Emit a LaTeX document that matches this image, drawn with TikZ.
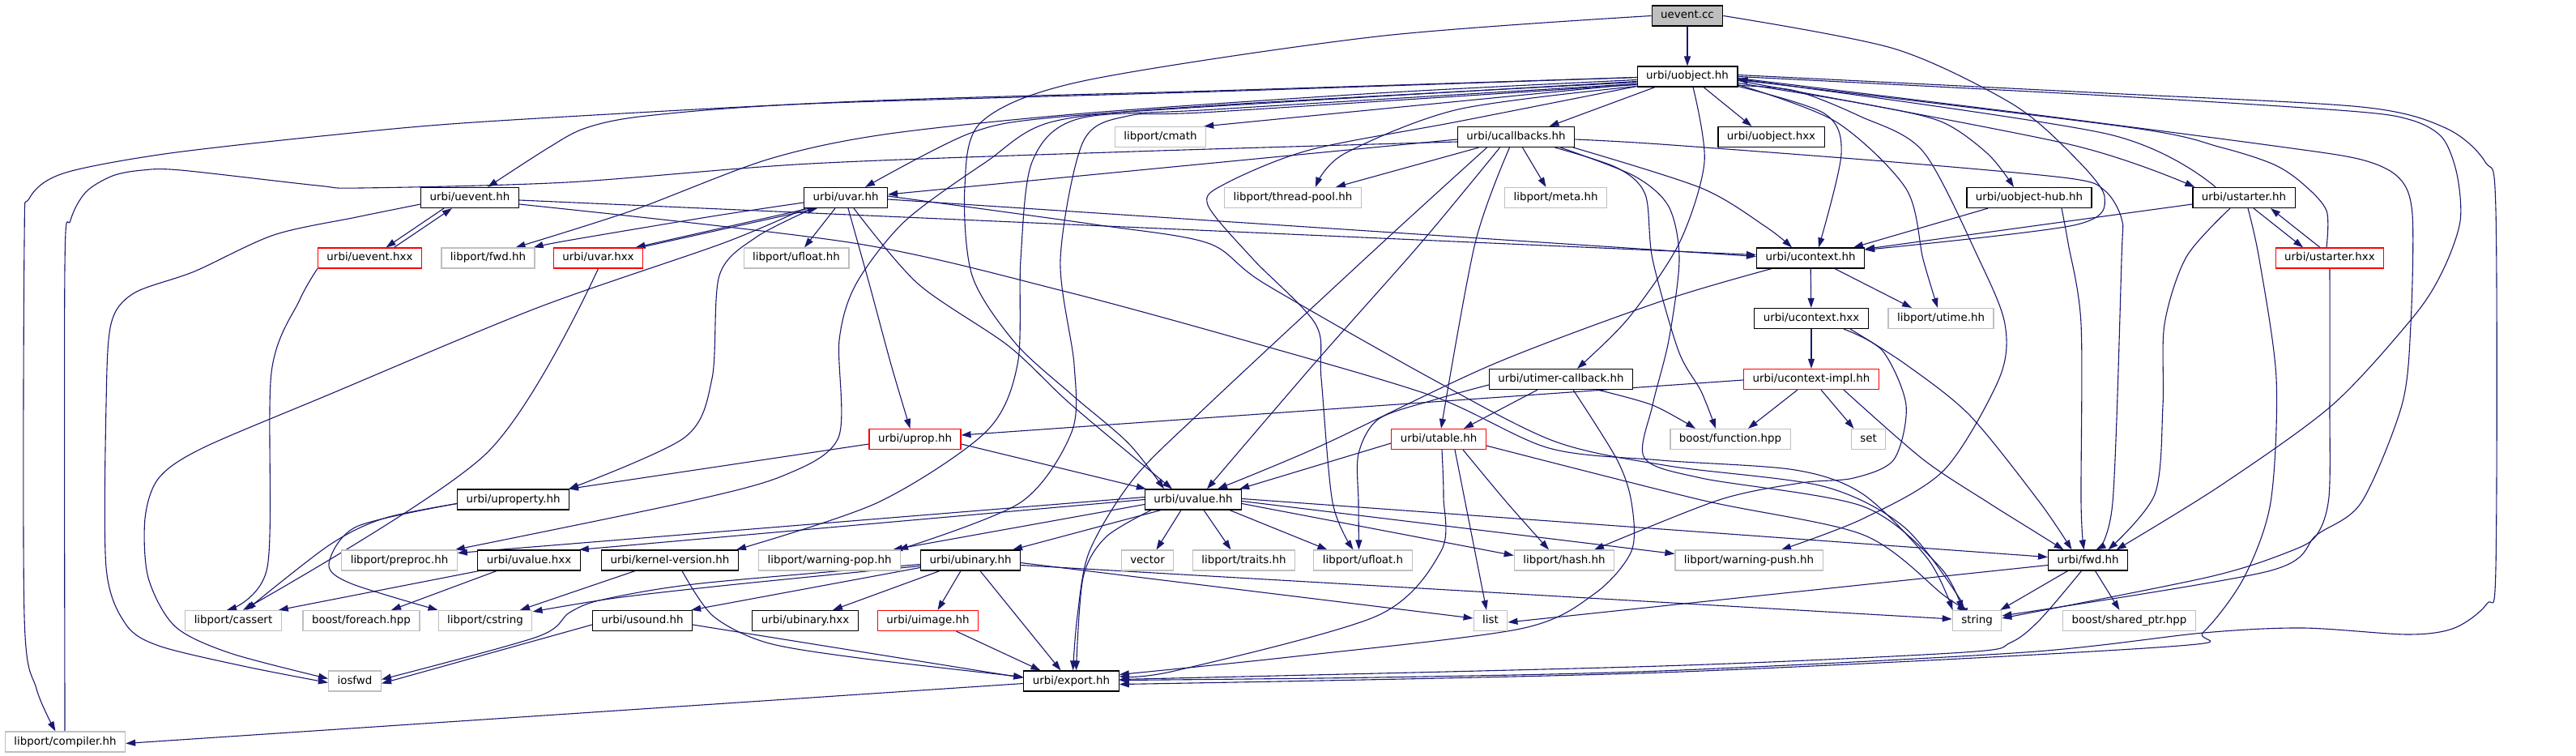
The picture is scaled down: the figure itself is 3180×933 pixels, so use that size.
\documentclass[tikz,border=0pt]{standalone}
\usepackage{fontspec}
\newfontfamily\dvs{DejaVu Sans}
\usetikzlibrary{arrows.meta}
\definecolor{eblue}{HTML}{191970}
\definecolor{egray}{HTML}{BFBFBF}
\pgfdeclarelayer{bg}
\pgfsetlayers{bg,main}
\tikzset{
  nd/.style={draw=black, line width=1.2pt, fill=white, rectangle, minimum height=25pt, inner xsep=11pt, inner ysep=0pt, font=\dvs\fontsize{13.4pt}{16pt}\selectfont, text height=10pt, text depth=3pt},
  ext/.style={nd, draw=egray},
  trc/.style={nd, draw=red},
  e/.style={draw=eblue, line width=1.1pt, -{Triangle[length=12pt,width=8pt]}},
}
\newcommand{\edgeroute}[1]{\draw[e] plot[smooth,tension=0.5] coordinates {#1};}
\begin{document}
\begin{tikzpicture}[x=1pt,y=-1pt]
\useasboundingbox (0,0) rectangle (3180,933);
\node[nd,fill=egray] (ueventcc) at (2083,19.5) {uevent.cc};
\node[nd] (uobject) at (2083,94.5) {urbi/uobject.hh};
\node[ext] (cmath) at (1432.5,169) {libport/cmath};
\node[nd] (ucallbacks) at (1871.5,169) {urbi/ucallbacks.hh};
\node[nd] (uobjecthxx) at (2186.5,169) {urbi/uobject.hxx};
\node[nd] (ueventhh) at (580,244) {urbi/uevent.hh};
\node[nd] (uvar) at (1044,244) {urbi/uvar.hh};
\node[ext] (threadpool) at (1596,244) {libport/thread-pool.hh};
\node[ext] (meta) at (1920.5,244) {libport/meta.hh};
\node[nd] (uobjecthub) at (2505,244) {urbi/uobject-hub.hh};
\node[nd] (ustarter) at (2770,244) {urbi/ustarter.hh};
\node[trc] (ueventhxx) at (456.5,318.5) {urbi/uevent.hxx};
\node[ext] (lpfwd) at (602.5,318.5) {libport/fwd.hh};
\node[trc] (uvarhxx) at (738.5,318.5) {urbi/uvar.hxx};
\node[ext] (ufloathh) at (983,318.5) {libport/ufloat.hh};
\node[nd] (ucontext) at (2235,318.5) {urbi/ucontext.hh};
\node[trc] (ustarterhxx) at (2876,318.5) {urbi/ustarter.hxx};
\node[nd] (ucontexthxx) at (2236,393) {urbi/ucontext.hxx};
\node[ext] (utime) at (2396,393) {libport/utime.hh};
\node[nd] (utimer) at (1927,468) {urbi/utimer-callback.hh};
\node[trc] (ucontextimpl) at (2236,468) {urbi/ucontext-impl.hh};
\node[trc] (uprop) at (1129.5,542) {urbi/uprop.hh};
\node[trc] (utable) at (1776,542) {urbi/utable.hh};
\node[ext] (function) at (2136,542) {boost/function.hpp};
\node[ext] (set) at (2306.5,542) {set};
\node[nd] (uproperty) at (633.5,616.5) {urbi/uproperty.hh};
\node[nd] (uvalue) at (1473,616.5) {urbi/uvalue.hh};
\node[ext] (preproc) at (493,691.5) {libport/preproc.hh};
\node[nd] (uvaluehxx) at (653,691.5) {urbi/uvalue.hxx};
\node[nd] (kernel) at (827,691.5) {urbi/kernel-version.hh};
\node[ext] (warnpop) at (1024,691.5) {libport/warning-pop.hh};
\node[nd] (ubinary) at (1198,691.5) {urbi/ubinary.hh};
\node[ext] (vector) at (1416.5,691.5) {vector};
\node[ext] (traits) at (1535.5,691.5) {libport/traits.hh};
\node[ext] (ufloath) at (1682.5,691.5) {libport/ufloat.h};
\node[ext] (hash) at (1931,691.5) {libport/hash.hh};
\node[ext] (warnpush) at (2159,691.5) {libport/warning-push.hh};
\node[nd] (urbifwd) at (2577.5,691.5) {urbi/fwd.hh};
\node[ext] (cassert) at (288,766) {libport/cassert};
\node[ext] (foreach) at (446,766) {boost/foreach.hpp};
\node[ext] (cstring) at (599,766) {libport/cstring};
\node[nd] (usound) at (793,766) {urbi/usound.hh};
\node[nd] (ubinaryhxx) at (994,766) {urbi/ubinary.hxx};
\node[trc] (uimage) at (1145.5,766) {urbi/uimage.hh};
\node[ext] (list) at (1840,766) {list};
\node[ext] (string) at (2440.5,766) {string};
\node[ext] (sharedptr) at (2628.5,766) {boost/shared\_ptr.hpp};
\node[ext] (iosfwd) at (438,840.5) {iosfwd};
\node[nd] (export) at (1322.5,840.5) {urbi/export.hh};
\node[ext] (compiler) at (80.5,915.5) {libport/compiler.hh};
\begin{pgfonlayer}{bg}
% uevent.cc
\draw[e] (ueventcc) -- (uobject);
\edgeroute{(ueventcc.west) (1700,45) (1337,100) (1212,150) (1191,230) (1200,340) (1253,423) (1323,487) (1393,547) ([xshift=-36pt]uvalue.north)}
\edgeroute{(ueventcc.east) (2338,60) (2482,127) (2554,187) (2598,243) (2560,278) ([yshift=-3pt]ucontext.north east)}
% uobject.hh left
\edgeroute{([yshift=-1pt]uobject.west) (1500,112) (1060,125) (600,150) (406,167) (203,190) (78,214) (36,245) (30,300) (30,760) (45,850) ([xshift=-12pt]compiler.north)}
\edgeroute{([yshift=-1pt]uobject.west) (1500,113) (1000,128) (798,143) (723,158) (676,183) ([xshift=22pt]ueventhh.north)}
\edgeroute{([yshift=-4pt]uobject.west) (1700,115) (1337,140) (1091,166) (947,197) (780,260) ([xshift=34pt]lpfwd.north)}
\edgeroute{([yshift=-6pt]uobject.west) (1600,125) (1300,145) (1196,165) ([xshift=24pt]uvar.north)}
\draw[e] ([yshift=-9pt]uobject.west) -- ([xshift=-3pt]cmath.north east);
\draw[e] ([xshift=-40pt]uobject.south) -- ([xshift=41pt]ucallbacks.north);
\edgeroute{([yshift=-12pt]uobject.west) (1800,135) (1659,190) ([xshift=28pt]threadpool.north)}
\draw[e] ([xshift=20pt]uobject.south) -- ([xshift=-24pt]uobjecthxx.north);
\edgeroute{([xshift=7pt]uobject.south) (2104,200) (2073,300) (2010,393) ([xshift=20pt]utimer.north)}
\edgeroute{([yshift=-7pt]uobject.west) (1500,130) (1300,150) (1217,200) (1117,273) (1057,350) (1036,420) (1035,540) (967,587) (845,620) ([xshift=-3pt]preproc.north east)}
\edgeroute{([yshift=-9pt]uobject.west) (1500,135) (1330,147) (1274,200) (1260,320) (1256,450) (1217,533) (1084,620) ([xshift=-3pt]kernel.north east)}
\edgeroute{([yshift=-10pt]uobject.west) (1500,138) (1393,143) (1337,175) (1309,320) (1326,450) (1323,533) (1260,620) ([xshift=-3pt]warnpop.north east)}
\edgeroute{([yshift=-12pt]uobject.west) (1800,150) (1617,185) (1512,227) (1491,253) (1547,320) (1624,400) (1631,467) (1645,620) ([xshift=-12pt]ufloath.north)}
% uobject.hh right
\edgeroute{([yshift=-12pt]uobject.east) (2252,140) (2273,190) ([xshift=10pt]ucontext.north)}
\edgeroute{([yshift=-8pt]uobject.east) (2300,128) (2396,150) (2454,190) ([xshift=-19pt]uobjecthub.north)}
\edgeroute{([yshift=-5pt]uobject.east) (2554,178) ([xshift=3pt]ustarter.north west)}
\edgeroute{([xshift=-35pt]ustarter.north) (2600,165) ([yshift=-3pt]uobject.east)}
\edgeroute{([yshift=-10pt]uobject.east) (2266,150) (2353,233) (2374,320) ([xshift=-4pt]utime.north)}
\edgeroute{([yshift=2pt]uobject.east) (2600,115) (2915,132) (3019,158) (3068,200) (3081,260) (3081,700) (3070,745) (3030,775) (2972,783) (2843,775) (2720,781) (2500,805) (2050,828) (1700,836) ([yshift=1pt]export.east)}
\edgeroute{(uobject.east) (2600,118) (2900,137) (2976,148) (3015,170) (3033,215) (3037,273) (3016,333) (2980,390) (2879,500) (2740,600) ([xshift=35pt]urbifwd.north)}
\edgeroute{([yshift=-2pt]uobject.east) (2500,140) (2807,180) (2915,197) (2962,220) (2978,265) (2976,400) (2965,500) (2915,620) (2860,660) (2800,705) ([yshift=6pt]string.east)}
\edgeroute{([yshift=-11pt]uobject.east) (2216,112) (2295,143) (2374,187) (2443,320) (2475,400) (2468,467) (2400,580) (2300,640) ([xshift=40pt]warnpush.north)}
% ustarter
\edgeroute{([xshift=-4pt]ustarterhxx.north) (2872,260) (2843,227) (2807,203) (2742,182) (2627,157) ([yshift=-4pt]uobject.east)}
\edgeroute{(ustarterhxx.south) (2876,500) (2875,613) (2860,660) (2828,680) (2727,712) ([yshift=3pt]string.east)}
\draw[e] ([xshift=12pt]ustarter.south) -- ([xshift=-33pt]ustarterhxx.north);
\draw[e] ([xshift=-12pt]ustarterhxx.north) -- ([xshift=33pt]ustarter.south);
\draw[e] ([yshift=-8pt]ustarter.west) -- ([yshift=-2pt]ucontext.north east);
\edgeroute{([xshift=-17pt]ustarter.south) (2699,317) (2672,400) (2670,500) (2660,610) ([xshift=25pt]urbifwd.north)}
\edgeroute{([xshift=5pt]ustarter.south) (2789,320) (2810,467) (2803,620) (2770,713) (2720,780) (2677,798) (2050,830) ([yshift=-4pt]export.east)}
% uobject-hub
\draw[e] ([xshift=-51pt]uobjecthub.south) -- ([xshift=53pt]ucontext.north);
\edgeroute{([xshift=40pt]uobjecthub.south) (2553,300) (2569,400) (2569,620) ([xshift=-5pt]urbifwd.north)}
% ucallbacks
\edgeroute{([xshift=-2pt]ucallbacks.south east) (2100,232) (2180,280) ([xshift=-23pt]ucontext.north)}
\draw[e] ([yshift=-3pt]ucallbacks.west) -- ([yshift=4pt]uvar.east);
\edgeroute{([yshift=-6pt]ucallbacks.west) (1400,187) (1000,202) (700,225) (446,232) (392,229) (223,210) (176,210) (139,217) (106,237) (87,272) (80,330) (80,880) (compiler.north)}
\draw[e] ([xshift=-46pt]ucallbacks.south) -- ([xshift=53pt]threadpool.north);
\draw[e] ([xshift=8pt]ucallbacks.south) -- ([xshift=-12pt]meta.north);
\edgeroute{([yshift=-3pt]ucallbacks.east) (2050,178) (2338,200) (2554,220) (2598,235) (2619,270) (2619,320) (2608,620) ([xshift=10pt]urbifwd.north)}
\edgeroute{([xshift=-8pt]ucallbacks.south) (1821,300) ([xshift=3pt]utable.north)}
\edgeroute{([xshift=48pt]ucallbacks.south) (1996,207) (2031,240) (2040,320) (2072,433) (2100,483) ([xshift=-18pt]function.north)}
\edgeroute{([xshift=-20pt]ucallbacks.south) (1754,300) (1624,447) ([xshift=17pt]uvalue.north)}
\edgeroute{([xshift=-36pt]ucallbacks.south) (1706,300) (1491,500) (1400,590) (1345,680) (1330,760) ([xshift=2pt]export.north)}
\edgeroute{([xshift=55pt]ucallbacks.south) (2017,217) (2060,255) (2073,320) (2060,420) (2040,500) (2030,565) (2100,590) (2300,625) (2395,700) ([xshift=-18pt]string.north)}
% uevent.hh
\draw[e] ([yshift=-3pt]ueventhh.east) -- ([yshift=4pt]ucontext.west);
\draw[e] ([xshift=-32pt]ueventhh.south) -- ([xshift=20pt]ueventhxx.north);
\draw[e] ([xshift=30pt]ueventhxx.north) -- ([xshift=-22pt]ueventhh.south);
\edgeroute{([yshift=-8pt]ueventhh.west) (440,268) (338,290) (240,335) (165,362) (137,400) (131,500) (131,700) (155,770) (196,797) (300,822) ([yshift=-2pt]iosfwd.west)}
\edgeroute{([yshift=-8pt]ueventhh.east) (1054,300) (1316,360) (1561,427) (1772,490) (1912,553) (2050,568) (2216,580) (2300,610) (2380,690) ([xshift=-30pt]string.north)}
\edgeroute{(ueventhxx.south west) (370,370) (335,460) (330,700) ([xshift=-8pt]cassert.north)}
% uvar.hh
\draw[e] ([yshift=-2pt]uvar.east) -- ([yshift=2pt]ucontext.west);
\edgeroute{([yshift=-6pt]uvar.west) (879,267) (700,297) ([xshift=-2pt]lpfwd.north east)}
\draw[e] ([xshift=-45pt]uvar.south) -- ([xshift=46pt]uvarhxx.north);
\draw[e] ([xshift=52pt]uvarhxx.north) -- ([xshift=-35pt]uvar.south);
\draw[e] ([xshift=-13pt]uvar.south) -- ([xshift=10pt]ufloathh.north);
\edgeroute{([xshift=3pt]uvar.south) (1073,350) (1100,450) ([xshift=-6pt]uprop.north)}
\edgeroute{([xshift=10pt]uvar.south) (1133,350) (1245,427) (1323,500) ([xshift=-26pt]uvalue.north)}
\edgeroute{([xshift=-40pt]uvar.south) (933,293) (888,340) (879,467) (845,540) ([xshift=-1pt]uproperty.north east)}
\edgeroute{([xshift=-50pt]uvar.south) (893,300) (663,380) (406,487) (250,553) (196,590) (179,640) (183,713) (216,773) (284,806) ([yshift=3pt]iosfwd.west)}
\edgeroute{([yshift=2pt]uvar.east) (1351,277) (1491,300) (1561,350) (1772,470) (1920,545) (2060,575) (2250,600) (2350,650) (2420,740) ([xshift=-24pt]string.north)}
\edgeroute{(uvarhxx.south) (600,560) ([xshift=12pt]cassert.north)}
% ucontext
\draw[e] (ucontext) -- (ucontexthxx);
\draw[e] ([xshift=30pt]ucontext.south) -- ([xshift=-36pt]utime.north);
\edgeroute{([xshift=-48pt]ucontext.south) (2050,372) (1842,450) (1631,550) ([xshift=30pt]uvalue.north)}
\draw[e] (ucontexthxx) -- (ucontextimpl);
\edgeroute{([xshift=40pt]ucontexthxx.south) (2324,433) (2353,500) (2338,567) (2288,590) (2223,596) (2122,617) ([xshift=37pt]hash.north)}
\edgeroute{([xshift=48pt]ucontexthxx.south) (2353,450) (2432,513) (2518,620) ([xshift=-20pt]urbifwd.north)}
\draw[e] ([yshift=-1pt]ucontextimpl.west) -- ([yshift=5pt]uprop.east);
\draw[e] ([xshift=-17pt]ucontextimpl.south) -- ([xshift=22pt]function.north);
\draw[e] ([xshift=12pt]ucontextimpl.south) -- ([xshift=-18pt]set.north);
\edgeroute{([xshift=40pt]ucontextimpl.south) (2374,567) (2454,620) (2510,655) ([xshift=-30pt]urbifwd.north)}
% utimer-callback
\draw[e] ([xshift=-29pt]utimer.south) -- ([xshift=31pt]utable.north);
\edgeroute{([xshift=45pt]utimer.south) (2040,500) ([xshift=-43pt]function.north)}
\edgeroute{([yshift=-7pt]utimer.west) (1772,493) (1702,517) (1677,560) (1677,620) ([xshift=-5pt]ufloath.north)}
\edgeroute{([xshift=15pt]utimer.south) (1996,567) (2014,620) (2014,680) (1968,733) (1877,776) (1600,810) ([yshift=8pt]export.east)}
% utable
\draw[e] ([yshift=-5pt]utable.west) -- ([xshift=-3pt]uvalue.north east);
\edgeroute{([xshift=30pt]utable.south) (1860,620) ([xshift=-19pt]hash.north)}
\edgeroute{([xshift=4pt]utable.south) (1782,613) (1779,680) (1700,760) (1450,828) ([yshift=6pt]export.east)}
\draw[e] ([xshift=20pt]utable.south) -- ([xshift=-5pt]list.north);
\edgeroute{([yshift=-8pt]utable.east) (2100,617) (2300,660) (2400,735) ([xshift=-12pt]string.north)}
% uprop / uproperty
\draw[e] ([yshift=-6pt]uprop.east) -- ([xshift=2pt]uvalue.north west);
\draw[e] ([yshift=-6pt]uprop.west) -- ([xshift=-1pt]uproperty.north east);
\edgeroute{([yshift=-5pt]uproperty.west) (473,640) (406,673) ([xshift=16pt]cassert.north)}
\edgeroute{([yshift=-5pt]uproperty.west) (440,650) (406,696) (433,720) (cstring.north west)}
% uvalue
\draw[e] ([yshift=3pt]uvalue.west) -- ([yshift=9pt]preproc.east);
\draw[e] (uvalue.west) -- ([xshift=-2pt]uvaluehxx.north east);
\draw[e] ([yshift=-6pt]uvalue.west) -- ([xshift=-10pt]warnpop.north east);
\draw[e] ([xshift=-40pt]uvalue.south) -- ([xshift=-10pt]ubinary.north east);
\draw[e] ([xshift=-15pt]uvalue.south) -- ([xshift=11pt]vector.north);
\draw[e] ([xshift=13pt]uvalue.south) -- ([xshift=-16pt]traits.north);
\draw[e] ([xshift=45pt]uvalue.south) -- ([xshift=-44pt]ufloath.north);
\draw[e] ([yshift=-5pt]uvalue.east) -- ([yshift=6pt]hash.west);
\draw[e] ([yshift=-2pt]uvalue.east) -- ([yshift=8pt]warnpush.west);
\draw[e] ([yshift=1pt]uvalue.east) -- ([yshift=4pt]urbifwd.west);
\edgeroute{([xshift=-52pt]uvalue.south) (1365,663) (1337,713) ([xshift=6pt]export.north)}
% uvalue.hxx, kernel-version
\draw[e] ([xshift=2pt]uvaluehxx.south west) -- ([xshift=-4pt]cassert.north east);
\draw[e] ([xshift=-40pt]uvaluehxx.south) -- ([xshift=37pt]foreach.north);
\draw[e] ([xshift=-43pt]kernel.south) -- ([xshift=43pt]cstring.north);
\edgeroute{([xshift=15pt]kernel.south) (880,760) (946,793) (1060,812) ([yshift=5pt]export.west)}
% ubinary
\edgeroute{([yshift=-5pt]ubinary.west) (865,720) (744,740) (703,756) (663,786) ([yshift=2pt]iosfwd.east)}
\edgeroute{([yshift=-7pt]ubinary.west) (900,722) (760,738) ([yshift=-2pt]cstring.north east)}
\draw[e] ([yshift=-9pt]ubinary.west) -- ([xshift=-2pt]usound.north east);
\draw[e] ([xshift=-38pt]ubinary.south) -- ([xshift=34pt]ubinaryhxx.north);
\draw[e] ([xshift=-12pt]ubinary.south) -- ([xshift=12pt]uimage.north);
\draw[e] ([xshift=12pt]ubinary.south) -- ([xshift=-13pt]export.north);
\draw[e] ([yshift=-3pt]ubinary.east) -- ([yshift=3pt]list.west);
\draw[e] ([yshift=-6pt]ubinary.east) -- ([yshift=2pt]string.west);
\draw[e] ([xshift=35pt]uimage.south) -- ([xshift=-38pt]export.north);
\draw[e] ([yshift=-5pt]usound.west) -- ([yshift=-3pt]iosfwd.east);
\draw[e] ([yshift=-5pt]usound.east) -- ([yshift=4pt]export.west);
\draw[e] ([yshift=-3pt]export.west) -- ([yshift=-2pt]compiler.east);
% urbi/fwd.hh
\draw[e] ([yshift=-6pt]urbifwd.west) -- ([yshift=-2pt]list.east);
\draw[e] ([xshift=-25pt]urbifwd.south) -- ([xshift=-2pt]string.north east);
\draw[e] ([xshift=9pt]urbifwd.south) -- ([xshift=-12pt]sharedptr.north);
\edgeroute{([xshift=-8pt]urbifwd.south) (2518,765) (2482,793) (2425,805) (2050,822) ([yshift=2pt]export.east)}
\end{pgfonlayer}
\end{tikzpicture}
\end{document}
